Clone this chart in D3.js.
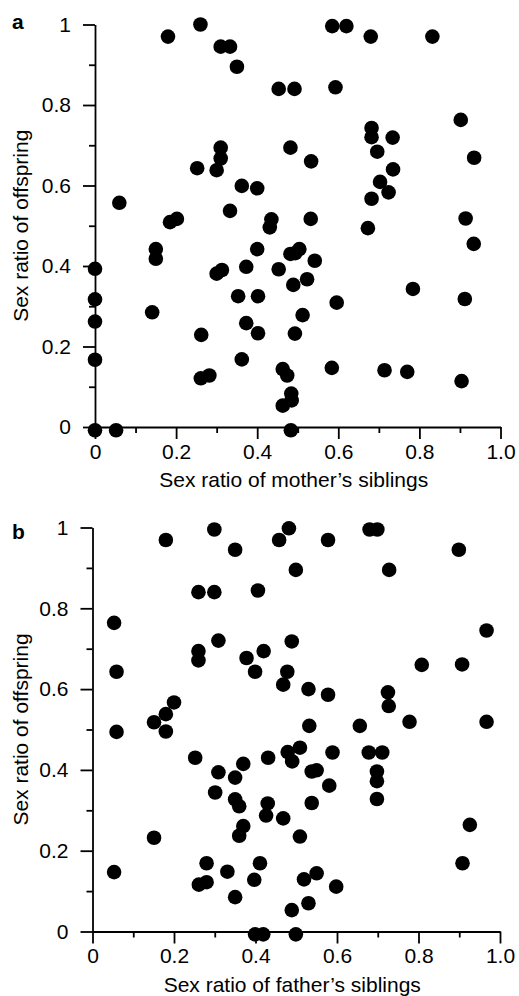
<!DOCTYPE html>
<html>
<head>
<meta charset="utf-8">
<script src="https://cdn.jsdelivr.net/npm/d3@7"></script>
<style>
  body { margin: 0; background: #fff; }
  svg { display: block; }
</style>
</head>
<body>
<script>
// panel a: sex ratio of mother's siblings vs offspring
const mothersSibs = [
  0.26, 0.18, 0.31, 0.333, 0.35, 0.585, 0.62, 0.68, 0.832, 0.453,
  0.492, 0.593, 0.902, 0.682, 0.682, 0.734, 0.482, 0.31, 0.31, 0.696,
  0.935, 0.533, 0.252, 0.30, 0.735, 0.362, 0.40, 0.703, 0.724, 0.682,
  0.06, 0.333, 0.914, 0.185, 0.202, 0.435, 0.431, 0.532, 0.673, 0.934,
  0.15, 0.15, 0.40, 0.482, 0.494, 0.504, 0.542, 0, 0.30, 0.313,
  0.373, 0.453, 0.489, 0.523, 0, 0.353, 0.402, 0.596, 0.784, 0.912,
  0.141, 0.512, 0, 0.373, 0.262, 0.402, 0.493, 0, 0.362, 0.463,
  0.474, 0.584, 0.714, 0.77, 0.261, 0.282, 0.904, 0.484, 0.485, 0.463,
  0, 0.052, 0.483
];
const offspringA = [
  1.0, 0.97, 0.945, 0.945, 0.895, 0.996, 0.996, 0.97, 0.97, 0.84,
  0.84, 0.844, 0.763, 0.743, 0.72, 0.719, 0.694, 0.694, 0.667, 0.684,
  0.669, 0.66, 0.643, 0.638, 0.64, 0.599, 0.593, 0.609, 0.583, 0.567,
  0.557, 0.537, 0.518, 0.509, 0.517, 0.516, 0.496, 0.517, 0.494, 0.455,
  0.442, 0.418, 0.442, 0.43, 0.432, 0.442, 0.413, 0.393, 0.381, 0.39,
  0.398, 0.392, 0.353, 0.367, 0.317, 0.325, 0.325, 0.309, 0.343, 0.318,
  0.285, 0.278, 0.262, 0.258, 0.229, 0.233, 0.232, 0.167, 0.168, 0.144,
  0.128, 0.147, 0.141, 0.137, 0.121, 0.128, 0.114, 0.083, 0.066, 0.053,
  -0.008, -0.008, -0.008
];

// panel b: sex ratio of father's siblings vs offspring
const fathersSibs = [
  0.18, 0.299, 0.35, 0.26, 0.299, 0.406, 0.053, 0.309, 0.26, 0.26,
  0.378, 0.399, 0.059, 0.482, 0.458, 0.578, 0.68, 0.699, 0.899, 0.499,
  0.728, 0.967, 0.489, 0.42, 0.808, 0.907, 0.478, 0.468, 0.53, 0.578,
  0.725, 0.727, 0.2, 0.18, 0.151, 0.18, 0.059, 0.778, 0.967, 0.532,
  0.656, 0.509, 0.479, 0.49, 0.431, 0.252, 0.589, 0.678, 0.711, 0.538,
  0.55, 0.698, 0.698, 0.698, 0.581, 0.309, 0.35, 0.37, 0.301, 0.35,
  0.36, 0.43, 0.426, 0.468, 0.538, 0.37, 0.36, 0.926, 0.509, 0.151,
  0.053, 0.28, 0.261, 0.28, 0.331, 0.35, 0.411, 0.397, 0.908, 0.519,
  0.55, 0.598, 0.53, 0.489, 0.399, 0.419, 0.499
];
const offspringB = [
  0.969, 0.995, 0.945, 0.84, 0.84, 0.844, 0.764, 0.72, 0.694, 0.671,
  0.677, 0.643, 0.643, 0.998, 0.969, 0.969, 0.995, 0.995, 0.945, 0.895,
  0.895, 0.745, 0.718, 0.694, 0.66, 0.661, 0.643, 0.611, 0.60, 0.586,
  0.592, 0.558, 0.567, 0.538, 0.518, 0.495, 0.494, 0.519, 0.519, 0.509,
  0.509, 0.455, 0.444, 0.421, 0.43, 0.43, 0.443, 0.443, 0.443, 0.396,
  0.399, 0.396, 0.372, 0.328, 0.361, 0.394, 0.381, 0.415, 0.344, 0.327,
  0.31, 0.317, 0.287, 0.28, 0.318, 0.261, 0.237, 0.264, 0.235, 0.232,
  0.147, 0.169, 0.116, 0.122, 0.148, 0.085, 0.169, 0.128, 0.169, 0.129,
  0.144, 0.111, 0.07, 0.053, -0.007, -0.007, -0.007
];

const majorTicks = [0, 0.2, 0.4, 0.6, 0.8, 1];
const minorTicks = [0.1, 0.3, 0.5, 0.7, 0.9];
const xTickLabels = ["0", "0.2", "0.4", "0.6", "0.8", "1.0"];
const yTickLabels = ["0", "0.2", "0.4", "0.6", "0.8", "1"];

const font = "'Liberation Sans', Arial, Helvetica, sans-serif";

const svg = d3.select("body").append("svg")
    .attr("width", 519)
    .attr("height", 996);

function panel(o) {
  const x = d3.scaleLinear().domain([0, 1]).range([o.left, o.right]);
  const y = d3.scaleLinear().domain([0, 1]).range([o.bottom, o.top]);
  const g = svg.append("g");

  // minor ticks, no labels
  g.append("g")
      .attr("transform", `translate(0,${o.bottom})`)
      .call(d3.axisBottom(x).tickValues(minorTicks).tickSize(6).tickFormat(""))
      .call(a => a.select(".domain").remove());
  g.append("g")
      .attr("transform", `translate(${o.left},0)`)
      .call(d3.axisLeft(y).tickValues(minorTicks).tickSize(6).tickFormat(""))
      .call(a => a.select(".domain").remove());

  // major ticks
  g.append("g")
      .attr("transform", `translate(0,${o.bottom})`)
      .call(d3.axisBottom(x).tickValues(majorTicks).tickSize(12).tickSizeOuter(0)
        .tickPadding(5).tickFormat((d, i) => xTickLabels[i]));
  g.append("g")
      .attr("transform", `translate(${o.left},0)`)
      .call(d3.axisLeft(y).tickValues(majorTicks).tickSize(12).tickSizeOuter(0)
        .tickPadding(12).tickFormat((d, i) => yTickLabels[i]));

  g.selectAll(".domain, .tick line").attr("stroke", "#000").attr("stroke-width", 1.8);
  g.selectAll(".tick text").attr("fill", "#000");
  g.selectAll("g").attr("font-size", 21).attr("font-family", font);

  g.append("g")
    .selectAll("circle")
    .data(d3.zip(o.xs, o.ys))
    .join("circle")
      .attr("cx", d => x(d[0]))
      .attr("cy", d => y(d[1]))
      .attr("r", 7.3)
      .attr("fill", "#000");

  g.append("text")
      .attr("x", o.left + (o.right - o.left) / 2 - 4)
      .attr("y", o.bottom + 60)
      .attr("text-anchor", "middle")
      .attr("font-family", font)
      .attr("font-size", 21)
      .text(o.xTitle);

  g.append("text")
      .attr("transform", `translate(28,${(o.top + o.bottom) / 2}) rotate(-90)`)
      .attr("text-anchor", "middle")
      .attr("font-family", font)
      .attr("font-size", 21)
      .text("Sex ratio of offspring");

  g.append("text")
      .attr("x", 12)
      .attr("y", o.labelY)
      .attr("font-family", font)
      .attr("font-size", 21)
      .attr("font-weight", "bold")
      .text(o.label);
}

panel({
  left: 95, right: 500.5, top: 24.5, bottom: 427,
  xs: mothersSibs, ys: offspringA,
  xTitle: "Sex ratio of mother\u2019s siblings",
  label: "a", labelY: 29
});

panel({
  left: 92.5, right: 500, top: 527.5, bottom: 931.5,
  xs: fathersSibs, ys: offspringB,
  xTitle: "Sex ratio of father\u2019s siblings",
  label: "b", labelY: 539
});
</script>
</body>
</html>
